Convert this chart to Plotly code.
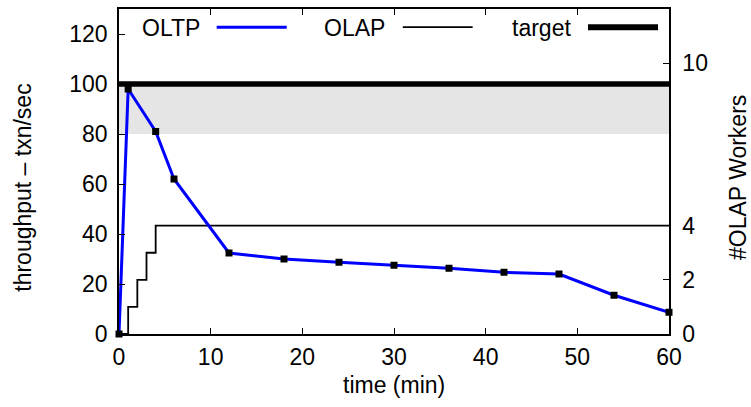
import plotly.graph_objects as go

# ---- data ----
time_oltp = [0, 1, 4, 6, 12, 18, 24, 30, 36, 42, 48, 54, 60]
oltp_throughput = [0, 98, 81, 62, 32.4, 30, 28.7, 27.5, 26.3, 24.7, 24, 15.5, 8.7]
time_olap = [0, 1, 2, 3, 4, 60]
olap_workers = [0, 1, 2, 3, 4, 4]
target_value = 100
band_low = 80
x_span = [0, 60]

x_ticks = [0, 10, 20, 30, 40, 50, 60]
y_ticks = [0, 20, 40, 60, 80, 100, 120]
y2_ticks = [0, 2, 4, 10]

FONT = "Liberation Sans, Arial, Helvetica, sans-serif"
FS = 23

fig = go.Figure()

# OLAP workers (right axis; base subplot so it sits below the OLTP line)
fig.add_trace(go.Scatter(
    x=time_olap, y=olap_workers, mode="lines", line_shape="hv",
    line=dict(color="black", width=1.8), yaxis="y", showlegend=False))

# target band (left axis)
fig.add_trace(go.Scatter(
    x=[x_span[0], x_span[1], x_span[1], x_span[0]],
    y=[band_low, band_low, target_value, target_value],
    fill="toself", fillcolor="#e5e5e5", line=dict(width=0),
    mode="lines", yaxis="y2", showlegend=False, hoverinfo="skip"))

# target line
fig.add_trace(go.Scatter(
    x=x_span, y=[target_value, target_value], mode="lines",
    line=dict(color="black", width=5.5), yaxis="y2", showlegend=False))

# OLTP throughput
fig.add_trace(go.Scatter(
    x=time_oltp, y=oltp_throughput, mode="lines+markers",
    line=dict(color="#0000ff", width=3),
    marker=dict(symbol="square", size=7, color="black"),
    yaxis="y2", cliponaxis=False, showlegend=False))

axis_common = dict(showgrid=False, zeroline=False, showline=True,
                   linecolor="black", linewidth=1.5, ticks="inside",
                   ticklen=6, tickcolor="black", tickwidth=1.2,
                   tickfont=dict(family=FONT, size=FS, color="black"))

fig.update_layout(
    width=751, height=407,
    margin=dict(l=119, r=82, t=7, b=73),
    plot_bgcolor="white", paper_bgcolor="white",
    font=dict(family=FONT, size=FS, color="black"),
    xaxis=dict(range=x_span, tickvals=x_ticks, mirror="ticks",
               ticklabelstandoff=2, **axis_common),
    yaxis=dict(range=[0, 12], tickvals=y2_ticks, side="right",
               ticklabelstandoff=7, **axis_common),
    yaxis2=dict(range=[0, 130], tickvals=y_ticks, side="left",
                overlaying="y", ticklabelstandoff=5, **axis_common),
    showlegend=False,
)

# axis titles
annotations = [
    dict(text="time (min)", xref="paper", yref="paper", x=0.5, y=0,
         yshift=-51, xanchor="center", yanchor="middle", showarrow=False,
         font=dict(family=FONT, size=FS)),
    dict(text="throughput – txn/sec", xref="paper", yref="paper", x=0,
         y=0.45, xshift=-96, textangle=-90, xanchor="center",
         yanchor="middle", showarrow=False, font=dict(family=FONT, size=FS)),
    dict(text="#OLAP Workers", xref="paper", yref="paper", x=1, y=0.48,
         xshift=69, textangle=-90, xanchor="center", yanchor="middle",
         showarrow=False, font=dict(family=FONT, size=FS)),
]

# legend (gnuplot style: text then sample)
legend_items = [
    ("OLTP", 0.1504, 0.1776, 0.305, "#0000ff", 3),
    ("OLAP", 0.4867, 0.516, 0.643, "black", 1.8),
    ("target", 0.8255, 0.8527, 0.98, "black", 6),
]
shapes = []
for name, tx, lx0, lx1, col, w in legend_items:
    annotations.append(dict(text=name, xref="paper", yref="paper", x=tx,
                            y=0.942, xanchor="right", yanchor="middle",
                            showarrow=False, font=dict(family=FONT, size=FS)))
    shapes.append(dict(type="line", xref="paper", yref="paper", x0=lx0,
                       x1=lx1, y0=0.944, y1=0.944,
                       line=dict(color=col, width=w)))

fig.update_layout(annotations=annotations, shapes=shapes)

fig.write_html("out.html")
